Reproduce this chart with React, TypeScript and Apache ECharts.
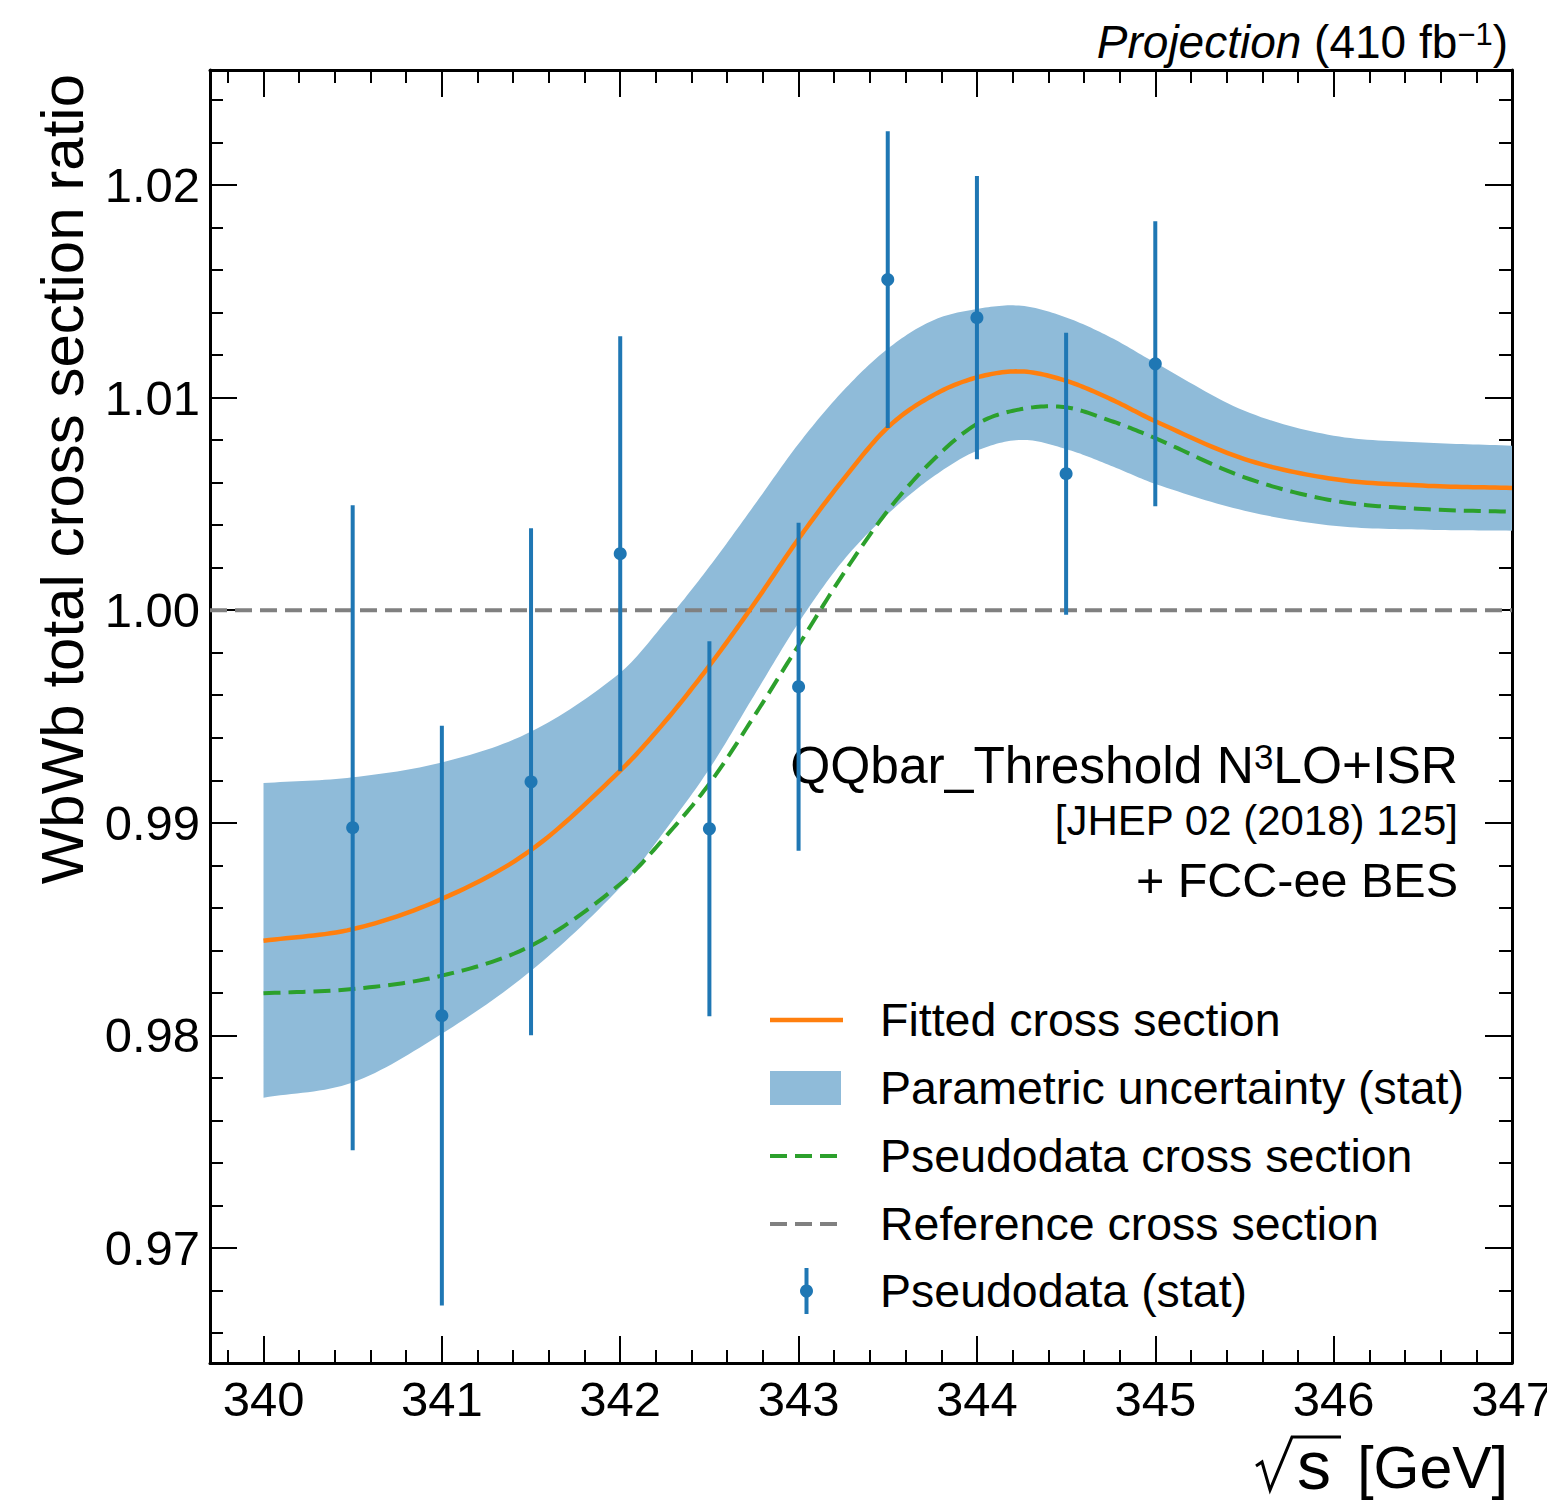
import React, { useEffect, useRef } from "react";
import * as echarts from "echarts";

// ---- data ----
const energies = [340, 340.5, 341, 341.5, 342, 342.25, 342.5, 342.75, 343, 343.25, 343.5, 343.75, 344, 344.25, 344.5, 344.75, 345, 345.5, 346, 346.5, 347];
const fittedXsec = [0.98445, 0.985, 0.98642, 0.98872, 0.99245, 0.99475, 0.99739, 1.00029, 1.00336, 1.00614, 1.0086, 1.01009, 1.01095, 1.01123, 1.01079, 1.00993, 1.00889, 1.00711, 1.00617, 1.00586, 1.00575];
const pseudoXsec = [0.98198, 0.98218, 0.98281, 0.98422, 0.98712, 0.98931, 0.99184, 0.995, 0.99835, 1.0017, 1.00468, 1.00703, 1.00876, 1.00946, 1.00954, 1.00891, 1.00809, 1.00625, 1.00515, 1.00476, 1.00463];
const bandUpper = [0.99187, 0.99214, 0.99284, 0.99429, 0.99706, 0.99941, 1.00205, 1.00492, 1.00783, 1.01032, 1.0123, 1.01362, 1.01417, 1.01432, 1.01377, 1.01283, 1.01164, 1.00938, 1.00821, 1.00789, 1.00774];
const bandLower = [0.97707, 0.97779, 0.98008, 0.98304, 0.98696, 0.98963, 0.99254, 0.99598, 0.99941, 1.00233, 1.00452, 1.00625, 1.0075, 1.00801, 1.00758, 1.0068, 1.00594, 1.00468, 1.00397, 1.00379, 1.00374];

const pointX = [340.5, 341, 341.5, 342, 342.5, 343, 343.5, 344, 344.5, 345];
const pointY = [0.98977, 0.98093, 0.99193, 1.00266, 0.98972, 0.9964, 1.01555, 1.01376, 1.00642, 1.01159];
const pointErr = [0.01517, 0.01364, 0.01192, 0.01023, 0.00882, 0.00771, 0.00698, 0.00666, 0.00663, 0.0067];

const referenceValue = 1.0;

const xMajorTicks = [340, 341, 342, 343, 344, 345, 346, 347];
const yMajorTicks = [0.97, 0.98, 0.99, 1.0, 1.01, 1.02];

const legendLabels = [
  "Fitted cross section",
  "Parametric uncertainty (stat)",
  "Pseudodata cross section",
  "Reference cross section",
  "Pseudodata (stat)",
];

const X_MIN = 339.7;
const X_MAX = 347;
const Y_MIN = 0.964591;
const Y_MAX = 1.025409;

const C_BLUE = "#1f77b4";
const C_ORANGE = "#ff7f0e";
const C_GREEN = "#2ca02c";
const C_GREY = "#808080";
const C_BAND = "#8fbbd9";
const FONT = '"Liberation Sans", Arial, Helvetica, sans-serif';

function buildMinor(start: number, count: number, step: number, scale: number, majorStep: number, max: number) {
  const out: number[] = [];
  for (let i = 0; i < count; i++) {
    const v = Math.round((start + step * i) * scale) / scale;
    const r = v / majorStep;
    if (Math.abs(r - Math.round(r)) > 1e-6 && v < max && v > 0) out.push(v);
  }
  return out;
}

const xMinorTicks = buildMinor(339.8, 37, 0.2, 10, 1, X_MAX);
const yMinorTicks = buildMinor(0.966, 30, 0.002, 1000, 0.01, Y_MAX);

// cubic Hermite rendering of a curve through the read points (data space)
function smoothCurve(xs: number[], ys: number[], perSeg = 16): number[][] {
  const n = xs.length;
  const m: number[] = [];
  for (let i = 0; i < n; i++) {
    if (i === 0) m.push((ys[1] - ys[0]) / (xs[1] - xs[0]));
    else if (i === n - 1) m.push((ys[n - 1] - ys[n - 2]) / (xs[n - 1] - xs[n - 2]));
    else m.push((ys[i + 1] - ys[i - 1]) / (xs[i + 1] - xs[i - 1]));
  }
  const out: number[][] = [];
  for (let i = 0; i < n - 1; i++) {
    const h = xs[i + 1] - xs[i];
    for (let k = 0; k < perSeg; k++) {
      const t = k / perSeg;
      const t2 = t * t;
      const t3 = t2 * t;
      const y =
        (2 * t3 - 3 * t2 + 1) * ys[i] +
        (t3 - 2 * t2 + t) * h * m[i] +
        (-2 * t3 + 3 * t2) * ys[i + 1] +
        (t3 - t2) * h * m[i + 1];
      out.push([xs[i] + t * h, y]);
    }
  }
  out.push([xs[n - 1], ys[n - 1]]);
  return out;
}

export default function App() {
  const ref = useRef<HTMLDivElement>(null);

  useEffect(() => {
    if (!ref.current) return;
    const chart = echarts.init(ref.current, null, { renderer: "svg" });

    const tickStyle = { color: "#000", width: 2 };
    const frameLine = { show: true, onZero: false, lineStyle: { color: "#000", width: 3 } };

    const baseAxis = (min: number, max: number) => ({
      type: "value" as const,
      min,
      max,
      splitLine: { show: false },
      gridIndex: 0,
    });

    const xAxes = [
      {
        ...baseAxis(X_MIN, X_MAX),
        position: "bottom",
        axisLine: frameLine,
        axisTick: { show: true, inside: true, length: 27, customValues: xMajorTicks, lineStyle: tickStyle },
        axisLabel: {
          show: true,
          customValues: xMajorTicks,
          fontSize: 49,
          color: "#000",
          fontFamily: FONT,
          margin: 11,
          formatter: (v: number) => String(Math.round(v)),
        },
      },
      {
        ...baseAxis(X_MIN, X_MAX),
        position: "bottom",
        axisLine: { show: false, onZero: false },
        axisTick: { show: true, inside: true, length: 13, customValues: xMinorTicks, lineStyle: tickStyle },
        axisLabel: { show: false },
      },
      {
        ...baseAxis(X_MIN, X_MAX),
        position: "top",
        axisLine: frameLine,
        axisTick: { show: true, inside: true, length: 27, customValues: xMajorTicks, lineStyle: tickStyle },
        axisLabel: { show: false },
      },
      {
        ...baseAxis(X_MIN, X_MAX),
        position: "top",
        axisLine: { show: false, onZero: false },
        axisTick: { show: true, inside: true, length: 13, customValues: xMinorTicks, lineStyle: tickStyle },
        axisLabel: { show: false },
      },
    ];

    const yAxes = [
      {
        ...baseAxis(Y_MIN, Y_MAX),
        position: "left",
        axisLine: frameLine,
        axisTick: { show: true, inside: true, length: 27, customValues: yMajorTicks, lineStyle: tickStyle },
        axisLabel: {
          show: true,
          customValues: yMajorTicks,
          fontSize: 49,
          color: "#000",
          fontFamily: FONT,
          margin: 10,
          formatter: (v: number) => v.toFixed(2),
        },
      },
      {
        ...baseAxis(Y_MIN, Y_MAX),
        position: "left",
        axisLine: { show: false, onZero: false },
        axisTick: { show: true, inside: true, length: 13, customValues: yMinorTicks, lineStyle: tickStyle },
        axisLabel: { show: false },
      },
      {
        ...baseAxis(Y_MIN, Y_MAX),
        position: "right",
        axisLine: frameLine,
        axisTick: { show: true, inside: true, length: 27, customValues: yMajorTicks, lineStyle: tickStyle },
        axisLabel: { show: false },
      },
      {
        ...baseAxis(Y_MIN, Y_MAX),
        position: "right",
        axisLine: { show: false, onZero: false },
        axisTick: { show: true, inside: true, length: 13, customValues: yMinorTicks, lineStyle: tickStyle },
        axisLabel: { show: false },
      },
    ];

    const upperCurve = smoothCurve(energies, bandUpper);
    const lowerCurve = smoothCurve(energies, bandLower);
    const fitCurve = smoothCurve(energies, fittedXsec);
    const pseudoCurve = smoothCurve(energies, pseudoXsec);

    const errorData = pointX.map((x, i) => [x, pointY[i], pointErr[i]]);

    const legendRows = [1020, 1088, 1156, 1224, 1291];
    const hx0 = 770;
    const hx1 = 843;
    const textX = 880;

    const graphics: any[] = [
      // Projection label
      {
        type: "text",
        x: 1508,
        y: 42,
        style: {
          text: "{i|Projection}{n| (410 fb}{s|−1}{n|)}",
          align: "right",
          verticalAlign: "middle",
          rich: {
            i: { fontSize: 46, fontStyle: "italic", fontFamily: FONT, fill: "#000" },
            n: { fontSize: 46, fontFamily: FONT, fill: "#000" },
            s: { fontSize: 31, fontFamily: FONT, fill: "#000", verticalAlign: "top", lineHeight: 26 },
          },
        },
      },
      // y axis title
      {
        type: "text",
        x: 62,
        y: 74,
        rotation: Math.PI / 2,
        style: {
          text: "WbWb total cross section ratio",
          align: "right",
          verticalAlign: "middle",
          fontSize: 60,
          fontFamily: FONT,
          fill: "#000",
        },
      },
      // x axis title: radical sign + s + unit
      {
        type: "polyline",
        shape: {
          points: [
            [1256, 1466],
            [1262, 1462],
            [1270, 1490],
            [1292, 1437],
            [1341, 1437],
          ],
        },
        style: { stroke: "#000", lineWidth: 3, fill: null },
      },
      {
        type: "text",
        x: 1297,
        y: 1465,
        style: {
          text: "s",
          align: "left",
          verticalAlign: "middle",
          fontSize: 68,
          lineHeight: 44,
          fontFamily: FONT,
          fill: "#000",
        },
      },
      {
        type: "text",
        x: 1508,
        y: 1468,
        style: {
          text: "[GeV]",
          align: "right",
          verticalAlign: "middle",
          fontSize: 59,
          lineHeight: 60,
          fontFamily: FONT,
          fill: "#000",
        },
      },
      // annotation
      {
        type: "text",
        x: 1458,
        y: 765,
        style: {
          text: "{n|QQbar_Threshold N}{s|3}{n|LO+ISR}",
          align: "right",
          verticalAlign: "middle",
          rich: {
            n: { fontSize: 51.5, fontFamily: FONT, fill: "#000" },
            s: { fontSize: 35, fontFamily: FONT, fill: "#000", verticalAlign: "top", lineHeight: 30 },
          },
        },
      },
      {
        type: "text",
        x: 1458,
        y: 820,
        style: {
          text: "[JHEP 02 (2018) 125]",
          align: "right",
          verticalAlign: "middle",
          fontSize: 42,
          fontFamily: FONT,
          fill: "#000",
        },
      },
      {
        type: "text",
        x: 1458,
        y: 880,
        style: {
          text: "+ FCC-ee BES",
          align: "right",
          verticalAlign: "middle",
          fontSize: 48.5,
          fontFamily: FONT,
          fill: "#000",
        },
      },
      // legend handles
      {
        type: "line",
        shape: { x1: hx0, y1: legendRows[0], x2: hx1, y2: legendRows[0] },
        style: { stroke: C_ORANGE, lineWidth: 4.5 },
      },
      {
        type: "rect",
        shape: { x: hx0, y: legendRows[1] - 17, width: hx1 - hx0 - 2, height: 34 },
        style: { fill: C_BAND },
      },
      {
        type: "line",
        shape: { x1: hx0, y1: legendRows[2], x2: hx1, y2: legendRows[2] },
        style: { stroke: C_GREEN, lineWidth: 4, lineDash: [17, 8] },
      },
      {
        type: "line",
        shape: { x1: hx0, y1: legendRows[3], x2: hx1, y2: legendRows[3] },
        style: { stroke: C_GREY, lineWidth: 4, lineDash: [17, 8] },
      },
      {
        type: "line",
        shape: { x1: (hx0 + hx1) / 2, y1: legendRows[4] - 23, x2: (hx0 + hx1) / 2, y2: legendRows[4] + 23 },
        style: { stroke: C_BLUE, lineWidth: 4 },
      },
      {
        type: "circle",
        shape: { cx: (hx0 + hx1) / 2, cy: legendRows[4], r: 6.5 },
        style: { fill: C_BLUE },
      },
      ...legendLabels.map((t, i) => ({
        type: "text",
        x: textX,
        y: legendRows[i],
        style: {
          text: t,
          align: "left",
          verticalAlign: "middle",
          fontSize: 46.5,
          fontFamily: FONT,
          fill: "#000",
        },
      })),
    ];

    const curveSeries = (name: string, pts: number[][], style: any, z: number) => ({
      type: "custom",
      name,
      xAxisIndex: 0,
      yAxisIndex: 0,
      silent: true,
      z,
      encode: { x: 0, y: 1 },
      data: [pts[0]],
      renderItem: (params: any, api: any) => {
        if (params.dataIndex !== 0) return null;
        return {
          type: "polyline",
          shape: { points: pts.map((p) => api.coord(p)) },
          style: { fill: null, ...style },
        };
      },
    });

    chart.setOption({
      animation: false,
      backgroundColor: "#fff",
      grid: { left: 210, right: 35, top: 70, bottom: 138, containLabel: false, outerBoundsMode: "none" },
      xAxis: xAxes,
      yAxis: yAxes,
      series: [
        {
          type: "custom",
          name: "Parametric uncertainty (stat)",
          xAxisIndex: 0,
          yAxisIndex: 0,
          silent: true,
          z: 1,
          encode: { x: 0, y: 1 },
          data: [upperCurve[0]],
          renderItem: (params: any, api: any) => {
            if (params.dataIndex !== 0) return null;
            const pts = upperCurve.map((p) => api.coord(p)).concat(
              lowerCurve
                .slice()
                .reverse()
                .map((p) => api.coord(p))
            );
            return {
              type: "polygon",
              shape: { points: pts },
              style: { fill: C_BAND, stroke: null },
            };
          },
        },
        {
          type: "line",
          name: "Reference cross section",
          xAxisIndex: 0,
          yAxisIndex: 0,
          showSymbol: false,
          symbol: "none",
          silent: true,
          data: [
            [X_MIN, referenceValue],
            [X_MAX, referenceValue],
          ],
          lineStyle: { color: C_GREY, width: 4, type: [17, 8] },
          z: 2,
        },
        curveSeries("Pseudodata cross section", pseudoCurve, { stroke: C_GREEN, lineWidth: 4, lineDash: [17, 8] }, 3),
        curveSeries("Fitted cross section", fitCurve, { stroke: C_ORANGE, lineWidth: 4.5 }, 4),
        {
          type: "custom",
          name: "Pseudodata (stat)",
          xAxisIndex: 0,
          yAxisIndex: 0,
          silent: true,
          z: 5,
          encode: { x: 0, y: 1 },
          data: errorData,
          renderItem: (params: any, api: any) => {
            const x = api.value(0);
            const y = api.value(1);
            const e = api.value(2);
            const top = api.coord([x, y + e]);
            const bot = api.coord([x, y - e]);
            const c = api.coord([x, y]);
            return {
              type: "group",
              children: [
                {
                  type: "line",
                  shape: { x1: top[0], y1: top[1], x2: bot[0], y2: bot[1] },
                  style: { stroke: C_BLUE, lineWidth: 4 },
                },
                {
                  type: "circle",
                  shape: { cx: c[0], cy: c[1], r: 6.5 },
                  style: { fill: C_BLUE },
                },
              ],
            };
          },
        },
      ],
      graphic: graphics,
    });

    return () => {
      chart.dispose();
    };
  }, []);

  return (
    <div
      ref={ref}
      style={{ position: "absolute", left: 0, top: 0, width: 1547, height: 1501, background: "#fff" }}
    />
  );
}
